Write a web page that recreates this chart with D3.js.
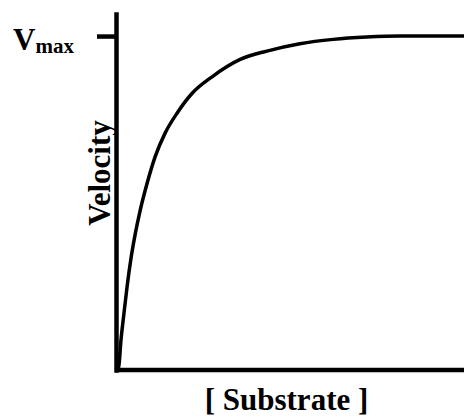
<!DOCTYPE html>
<html>
<head>
<meta charset="utf-8">
<script src="https://cdn.jsdelivr.net/npm/d3@7"></script>
<style>
  html, body { margin: 0; padding: 0; background: #fff; }
  svg { display: block; }
  text { font-family: 'Liberation Serif', 'Times New Roman', serif; font-weight: bold; fill: #000; }
</style>
</head>
<body>
<div id="chart"></div>
<script>
// substrate concentration (arbitrary units) and velocity (fraction of Vmax)
const substrate = [0, 0.05, 0.115, 0.19, 0.29, 0.41, 0.53, 0.67, 0.87, 1.1, 1.39, 1.73, 2.16, 2.74, 3.55, 4.32, 5.27, 6.23, 7.2, 8.16, 10];
const velocity = [0, 0.01, 0.09, 0.16, 0.249, 0.339, 0.41, 0.479, 0.56, 0.639, 0.71, 0.769, 0.828, 0.878, 0.93, 0.955, 0.977, 0.99, 0.997, 1.0, 1.0];
const yTicks = [1];
const yTickLabels = ['V', 'max'];
const xLabel = '[ Substrate ]';
const yLabel = 'Velocity';

const width = 464, height = 417;
const margin = { top: 14, right: 0, bottom: 47, left: 117 };

const points = substrate.map((s, i) => ({ s: s, v: velocity[i] }));

const svg = d3.select('#chart').append('svg')
  .attr('width', width)
  .attr('height', height);

let xScale = d3.scaleLinear()
  .domain([0, 10])
  .range([margin.left, width - margin.right]);
let yScale = d3.scaleLinear()
  .domain([0, 1.066])
  .range([height - margin.bottom, margin.top]);

let xAxis = d3.axisBottom(xScale)
  .tickValues([])
  .tickSizeOuter(0);
let yAxis = d3.axisLeft(yScale)
  .tickValues(yTicks)
  .tickSize(19)
  .tickSizeOuter(0)
  .tickFormat('');

const gx = svg.append('g')
  .attr('transform', `translate(0, ${height - margin.bottom - 0.5})`)
  .call(xAxis);
const gy = svg.append('g')
  .attr('transform', `translate(${margin.left - 1}, 0)`)
  .call(yAxis);

[gx, gy].forEach(g => {
  g.select('.domain')
    .attr('stroke', '#000')
    .attr('stroke-width', 4.5)
    .attr('stroke-linecap', 'square');
  g.selectAll('.tick line')
    .attr('stroke', '#000')
    .attr('stroke-width', 4.5);
});

// curve
const line = d3.line()
  .x(d => xScale(d.s))
  .y(d => yScale(d.v))
  .curve(d3.curveMonotoneX);
svg.append('path')
  .datum(points)
  .attr('d', line)
  .attr('fill', 'none')
  .attr('stroke', '#000')
  .attr('stroke-width', 3.5);

// Vmax label
const vmax = svg.append('text')
  .attr('x', 13)
  .attr('y', yScale(yTicks[0]) + 14)
  .attr('font-size', '31px');
vmax.append('tspan').text(yTickLabels[0]);
vmax.append('tspan')
  .attr('font-size', '21px')
  .attr('dy', 3)
  .text(yTickLabels[1]);

// axis titles
svg.append('text')
  .attr('transform', `translate(110, ${(yScale(0) + yScale(yTicks[0])) / 2 - 30}) rotate(-90)`)
  .attr('text-anchor', 'middle')
  .attr('font-size', '31px')
  .text(yLabel);

svg.append('text')
  .attr('x', (xScale.range()[0] + xScale.range()[1]) / 2 - 4)
  .attr('y', 410)
  .attr('text-anchor', 'middle')
  .attr('font-size', '31px')
  .text(xLabel);
</script>
</body>
</html>
